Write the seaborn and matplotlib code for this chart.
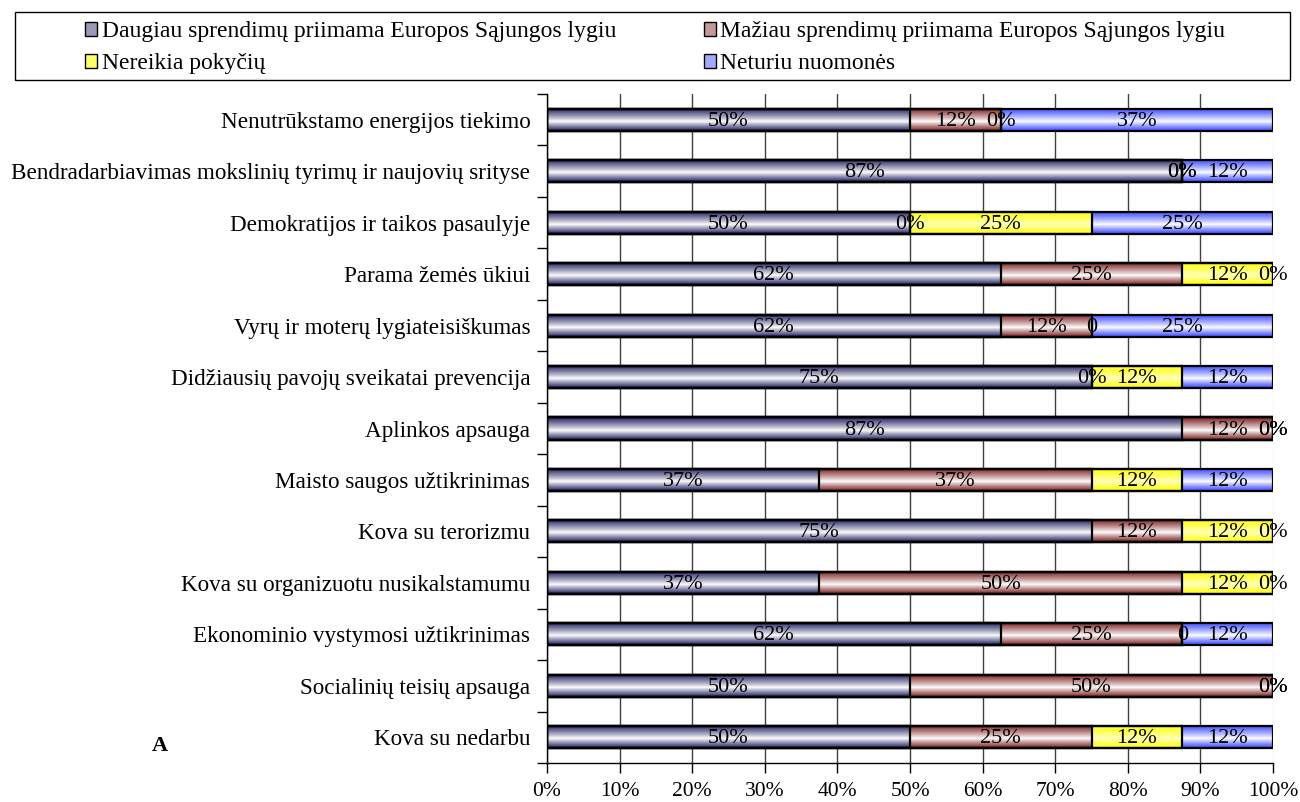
import numpy as np
import pandas as pd
import matplotlib
matplotlib.use("Agg")
import matplotlib.pyplot as plt
import seaborn as sns
from matplotlib.colors import to_rgb
from matplotlib.patches import Patch, Rectangle

categories = [
    "Nenutrūkstamo energijos tiekimo",
    "Bendradarbiavimas mokslinių tyrimų ir naujovių srityse",
    "Demokratijos ir taikos pasaulyje",
    "Parama žemės ūkiui",
    "Vyrų ir moterų lygiateisiškumas",
    "Didžiausių pavojų sveikatai prevencija",
    "Aplinkos apsauga",
    "Maisto saugos užtikrinimas",
    "Kova su terorizmu",
    "Kova su organizuotu nusikalstamumu",
    "Ekonominio vystymosi užtikrinimas",
    "Socialinių teisių apsauga",
    "Kova su nedarbu",
]

series_names = [
    "Daugiau sprendimų priimama Europos Sąjungos lygiu",
    "Mažiau sprendimų priimama Europos Sąjungos lygiu",
    "Nereikia pokyčių",
    "Neturiu nuomonės",
]

daugiau = [50, 87.5, 50, 62.5, 62.5, 75, 87.5, 37.5, 75, 37.5, 62.5, 50, 50]
maziau = [12.5, 0, 0, 25, 12.5, 0, 12.5, 37.5, 12.5, 50, 25, 50, 25]
nereikia = [0, 0, 25, 12.5, 0, 12.5, 0, 12.5, 12.5, 12.5, 0, 0, 12.5]
neturiu = [37.5, 12.5, 25, 0, 25, 12.5, 0, 12.5, 0, 0, 12.5, 0, 12.5]

# rows where the zero label of "Nereikia pokyčių" reads just "0"
plain_zero_rows = ["Vyrų ir moterų lygiateisiškumas", "Ekonominio vystymosi užtikrinimas"]

tick_values = list(range(0, 101, 10))
tick_labels = [f"{v}%" for v in tick_values]

# dark / light ends of each bar gradient
dark_colors = ["#1e1e60", "#7a1c1c", "#ffff00", "#3445ff"]
light_colors = ["#ffffff", "#ffffff", "#ffffc0", "#ffffff"]

sns.set_style("white")
plt.rcParams["font.family"] = ["Liberation Serif", "DejaVu Serif"]
plt.rcParams["text.color"] = "black"
plt.rcParams["xtick.color"] = "black"
plt.rcParams["ytick.color"] = "black"

values = np.array([daugiau, maziau, nereikia, neturiu], dtype=float)
cum = np.cumsum(values, axis=0)


def gradient(dark, light, n=80):
    d = np.array(to_rgb(dark))
    l = np.array(to_rgb(light))
    t = np.linspace(0, 1, n)
    f = np.where(t < 0.58, 1 - t / 0.58, (t - 0.58) / 0.42) ** 0.9
    col = l[None, :] * (1 - f[:, None]) + d[None, :] * f[:, None]
    return col[:, None, :]


fig, ax = plt.subplots(figsize=(13, 8.02), dpi=100)
fig.subplots_adjust(left=547 / 1300, right=1273 / 1300, top=1 - 94 / 802, bottom=1 - 763 / 802)

# stacked bars: draw cumulative totals from the longest down
layers = []
for i in reversed(range(4)):
    df = pd.DataFrame({"kat": categories, "cum": cum[i]})
    n_before = len(ax.patches)
    sns.barplot(data=df, x="cum", y="kat", order=categories, orient="h",
                color=dark_colors[i], width=0.43, ax=ax)
    layers.append((i, ax.patches[n_before:]))

z = 2.0
for i, patches in layers:
    img = gradient(dark_colors[i], light_colors[i])
    for p in patches:
        x0, y0, w, h = p.get_x(), p.get_y(), p.get_width(), p.get_height()
        if w > 0:
            ax.imshow(img, extent=[x0, x0 + w, y0 + h, y0], aspect="auto",
                      interpolation="bilinear", zorder=z)
        p.set_facecolor("none")
        p.set_edgecolor("black")
        p.set_linewidth(1.6)
        p.set_zorder(6)
    z += 0.1

# value labels
for i in range(4):
    for r, cat in enumerate(categories):
        v = values[i][r]
        label = f"{int(v)}%"
        if i == 2 and v == 0 and cat in plain_zero_rows:
            label = "0"
        ax.text(cum[i][r] - v / 2, r + 0.03, label, ha="center", va="center",
                fontsize=16, color="black", zorder=10)

ax.set_xlim(0, 100)
ax.set_ylim(12.5, -0.5)
ax.set_xticks(tick_values)
ax.set_xticklabels(tick_labels)
ax.set_yticks(range(len(categories)))
ax.set_yticklabels(categories)
ax.set_yticks(np.arange(-0.5, len(categories), 1), minor=True)
ax.set_xlabel("")
ax.set_ylabel("")

ax.set_axisbelow(True)
ax.xaxis.grid(True, color="#404040", linewidth=1)
ax.yaxis.grid(False)
ax.get_xgridlines()[-1].set_color("#ececec")

ax.tick_params(axis="y", which="major", length=0, pad=12, labelsize=16.7)
ax.tick_params(axis="y", which="minor", length=7, width=1, color="black", left=True)
ax.tick_params(axis="x", length=7, width=1, color="black", pad=7, labelsize=15.5, bottom=True)
for s in ["top", "right"]:
    ax.spines[s].set_visible(False)
for s in ["left", "bottom"]:
    ax.spines[s].set_color("black")
    ax.spines[s].set_linewidth(1)

# legend with its own frame
handles = []
for i in range(4):
    mid = 0.55 * np.array(to_rgb(light_colors[i])) + 0.45 * np.array(to_rgb(dark_colors[i]))
    handles.append(Patch(facecolor=mid, edgecolor="black", linewidth=1))
order = [0, 2, 1, 3]
fig.legend([handles[k] for k in order], [series_names[k] for k in order],
           loc="upper left", bbox_to_anchor=(76 / 1300, 1 - 12 / 802), ncol=2,
           frameon=False, fontsize=17, columnspacing=3.7, handlelength=0.5,
           handleheight=0.5, handletextpad=0.2, labelspacing=0.46, borderaxespad=0)
fig.add_artist(Rectangle((15 / 1300, 1 - 80 / 802), 1275 / 1300, 68 / 802,
                         transform=fig.transFigure, fill=False, edgecolor="black",
                         linewidth=1))

fig.text(160 / 1300, 1 - 746 / 802, "A", fontweight="bold", fontsize=16,
         ha="center", va="center")

fig.savefig("out.png", dpi=100)
